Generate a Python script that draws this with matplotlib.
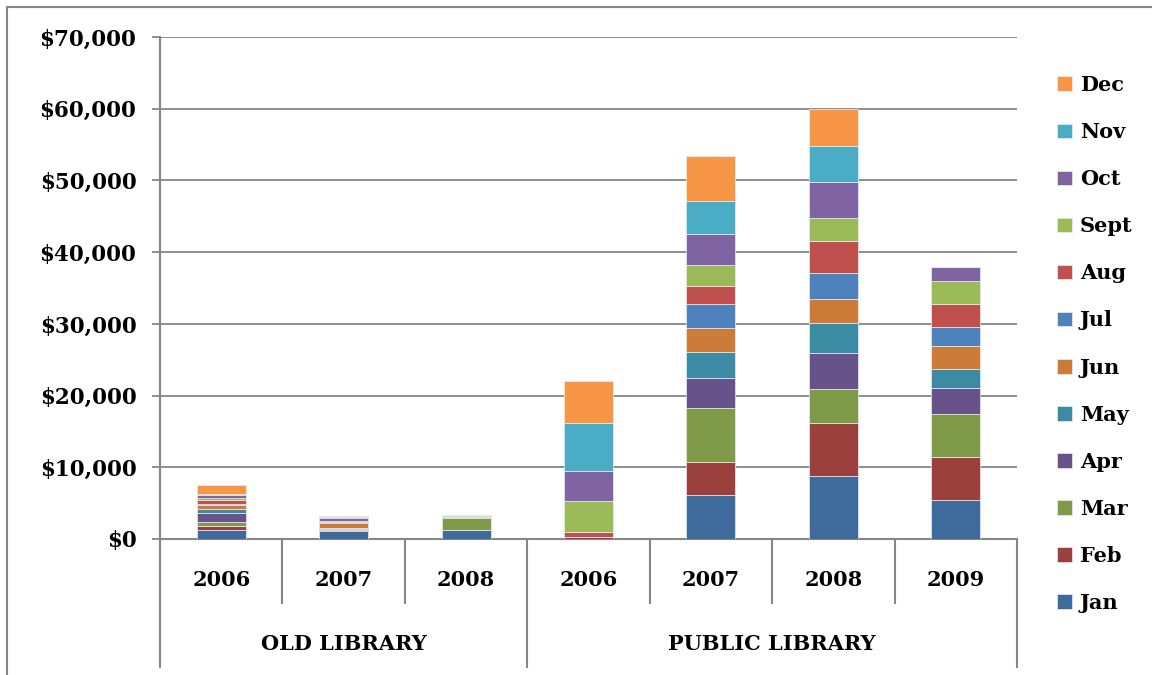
import matplotlib
matplotlib.use("Agg")
import matplotlib.pyplot as plt
import matplotlib.transforms as mtransforms
from matplotlib.lines import Line2D
from matplotlib.patches import Rectangle
import numpy as np

plt.rcParams['font.family'] = ['DejaVu Serif']
plt.rcParams['font.weight'] = 'bold'

# Category axis: library group and year
groups = ["OLD LIBRARY", "PUBLIC LIBRARY"]
group_sizes = [3, 4]
years = ["2006", "2007", "2008", "2006", "2007", "2008", "2009"]

months = ["Jan", "Feb", "Mar", "Apr", "May", "Jun",
          "Jul", "Aug", "Sept", "Oct", "Nov", "Dec"]

# Monthly amounts (USD) per bar, in the order of `years`
jan = [1300, 1150, 1210, 0, 6090, 8740, 5440]
feb = [510, 60, 90, 230, 4690, 7480, 6040]
mar = [560, 100, 1600, 0, 7450, 4700, 5990]
apr = [1300, 80, -100, 0, 4180, 5060, 3630]
may = [560, 200, 60, 0, 3630, 4180, 2650]
jun = [465, 650, 40, 0, 3340, 3310, 3160]
jul = [230, 60, 40, 0, 3350, 3580, 2650]
aug = [465, 100, 40, 790, 2590, 4550, 3250]
sept = [370, 140, 120, 4320, 2890, 3160, 3170]
octo = [420, 450, 90, 4140, 4280, 4980, 1990]
nov = [140, 80, 50, 6650, 4690, 5020, 0]
dec = [1200, 140, 50, 5900, 6230, 5160, 0]

series = [jan, feb, mar, apr, may, jun, jul, aug, sept, octo, nov, dec]
colors = ["#3F6A9C", "#9C403D", "#7F9A48", "#68528A", "#3B8CA2", "#CC7B38",
          "#4F81BD", "#C0504D", "#9BBB59", "#8064A2", "#4BACC6", "#F79646"]

W, H = 1152, 675
fig = plt.figure(figsize=(W / 100, H / 100), dpi=100)
ax = fig.add_axes([160 / W, 1 - 539 / H, (1017 - 160) / W, (539 - 37) / H])

grid_c = "#868686"
x = np.arange(len(years))
pos_base = np.zeros(len(years))
neg_base = np.zeros(len(years))
handles = []
for name, vals, c in zip(months, series, colors):
    v = np.array(vals, dtype=float)
    bottom = np.where(v >= 0, pos_base, neg_base)
    b = ax.bar(x, v, width=0.4, bottom=bottom, color=c, edgecolor="#e8eef5",
               linewidth=0.5, label=name, zorder=3)
    handles.append(b)
    pos_base += np.where(v > 0, v, 0)
    neg_base += np.where(v < 0, v, 0)

ax.set_xlim(-0.5, len(years) - 0.5)
ax.set_ylim(0, 70000)
ax.set_yticks(np.arange(0, 70001, 10000))
ax.set_yticklabels([f"${v:,.0f}" for v in range(0, 70001, 10000)])
ax.yaxis.grid(True, color=grid_c, linewidth=1.3, zorder=0)
ax.set_axisbelow(True)
ax.tick_params(axis="y", length=6, width=1.3, color=grid_c, pad=11,
               labelsize=15.5)
ax.tick_params(axis="x", length=0, labelbottom=False)
for s in ["top", "right"]:
    ax.spines[s].set_visible(False)
for s in ["left", "bottom"]:
    ax.spines[s].set_color(grid_c)
    ax.spines[s].set_linewidth(1.5)

# Two-level category axis drawn below the plot
trans = mtransforms.blended_transform_factory(ax.transData, fig.transFigure)
y_axis = 1 - 539 / H
y_year = 1 - 603 / H
y_group = 1 - 667 / H
edges = np.cumsum([0] + group_sizes) - 0.5
for xi in np.arange(-0.5, len(years)):
    ylow = y_group if np.any(np.isclose(xi, edges)) else y_year
    fig.add_artist(Line2D([xi, xi], [y_axis, ylow], transform=trans,
                          color=grid_c, linewidth=1.5))
for xi, lab in zip(x, years):
    fig.text(xi, 1 - 580 / H, lab, transform=trans, ha="center", va="center",
             fontsize=15, fontweight="bold")
for i, g in enumerate(groups):
    fig.text((edges[i] + edges[i + 1]) / 2, 1 - 644 / H, g, transform=trans,
             ha="center", va="center", fontsize=15, fontweight="bold")

# Legend, December on top
leg = fig.legend(handles[::-1], months[::-1], loc="center left",
                 bbox_to_anchor=(1057 / W, 1 - 344 / H), frameon=False,
                 fontsize=15, handlelength=0.7, handleheight=0.7,
                 handletextpad=0.4, labelspacing=1.3, borderpad=0,
                 borderaxespad=0)

# Chart area border
fig.add_artist(Rectangle((7 / W, -0.1), 1.2, 1.1 - 7 / H, transform=fig.transFigure,
                         fill=False, edgecolor=grid_c, linewidth=1.5))

fig.savefig("out.png", dpi=100)
